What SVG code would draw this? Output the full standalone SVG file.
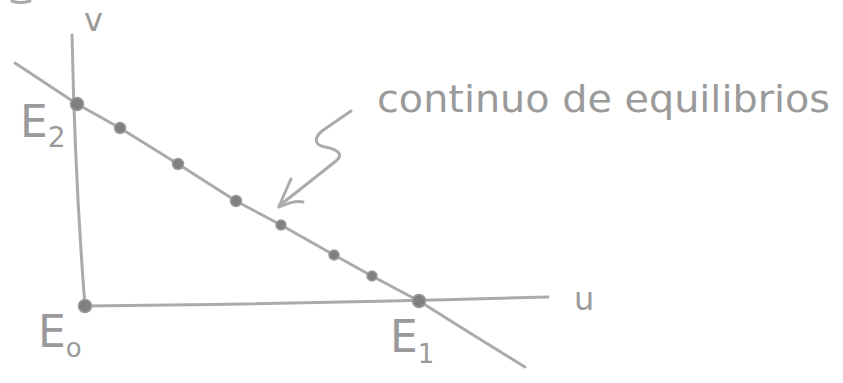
<svg xmlns="http://www.w3.org/2000/svg" width="843" height="383" viewBox="0 0 843 383">
<style>
.ln{fill:none;stroke:#ababab;stroke-width:3;stroke-linecap:round;stroke-linejoin:round}
.dot{fill:#808080;stroke:#9a9a9a;stroke-width:1.5}
.lbl{font-family:"DejaVu Sans",sans-serif;fill:#9a9a9a}
</style>
<rect width="843" height="383" fill="#ffffff"/>
<path class="ln" d="M12,1 Q20,4 30,1"/>
<g id="connectors">
<path id="v-axis" class="ln" d="M72,35 Q75,180 85,306"/>
<path id="u-axis" class="ln" d="M85,306 Q300,304 548,297"/>
<path id="equilibria-line" class="ln" d="M15,63 L77,104 L120,128 L178,164 L236,201 L281,225 L334,255 L372,276 L419,301 L470,333 L525,367"/>
<path id="arrow" class="ln" d="M351,111 L322,131 C314,138 314,145 325,147 C340,150 343,155 336,161 L279,206"/>
<path id="arrowhead" class="ln" d="M291,179 C286,190 282,199 279,207 C288,203 296,200 303,202"/>
</g>
<g id="E2"><circle class="dot" cx="77" cy="104" r="6.5"/><text class="lbl" x="20" y="137" font-size="44">E<tspan font-size="28" dy="10">2</tspan></text></g>
<g id="E0"><circle class="dot" cx="85" cy="306" r="6.5"/><text class="lbl" x="38" y="347" font-size="44">E<tspan font-size="26" dy="10">o</tspan></text></g>
<g id="E1"><circle class="dot" cx="419" cy="301" r="6.5"/><text class="lbl" x="390" y="352" font-size="44">E<tspan font-size="26" dy="11">1</tspan></text></g>
<g id="p1"><circle class="dot" cx="120" cy="128" r="5.5"/></g>
<g id="p2"><circle class="dot" cx="178" cy="164" r="5.5"/></g>
<g id="p3"><circle class="dot" cx="236" cy="201" r="5.5"/></g>
<g id="p4"><circle class="dot" cx="281" cy="225" r="5"/></g>
<g id="p5"><circle class="dot" cx="334" cy="255" r="5"/></g>
<g id="p6"><circle class="dot" cx="372" cy="276" r="5"/></g>
<g id="label-v"><text class="lbl" x="84" y="31" font-size="32">v</text></g>
<g id="label-u"><text class="lbl" x="574" y="310" font-size="32">u</text></g>
<g id="label-continuo"><text class="lbl" x="377" y="112" font-size="38" textLength="453" lengthAdjust="spacingAndGlyphs">continuo de equilibrios</text></g>
</svg>
